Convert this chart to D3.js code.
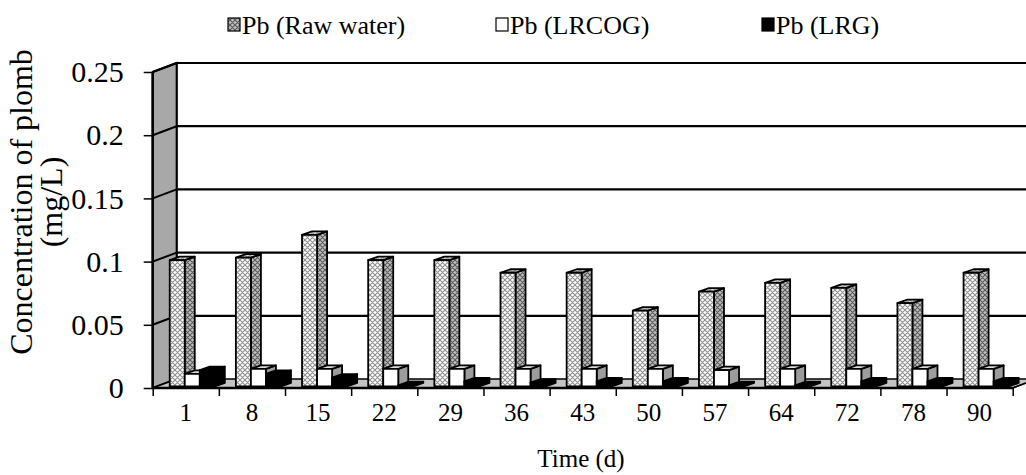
<!DOCTYPE html>
<html>
<head>
<meta charset="utf-8">
<script src="https://cdn.jsdelivr.net/npm/d3@7/dist/d3.min.js"></script>
<style>
  html, body { margin: 0; padding: 0; background: #fff; }
  svg { display: block; }
  text { font-family: "Liberation Serif", "Times New Roman", serif; fill: #000; }
</style>
</head>
<body>
<svg id="chart" width="1026" height="475"></svg>
<script>
// ---- data ----
const days = ["1","8","15","22","29","36","43","50","57","64","72","78","90"];
const rawWater = [0.100,0.102,0.120,0.100,0.100,0.090,0.090,0.060,0.075,0.082,0.078,0.066,0.090];
const lrcog    = [0.010,0.014,0.014,0.014,0.014,0.014,0.014,0.014,0.013,0.014,0.014,0.014,0.014];
const lrg      = [0.013,0.010,0.007,0.001,0.004,0.003,0.004,0.004,0.001,0.001,0.004,0.004,0.004];
const seriesNames = ["Pb (Raw water)","Pb (LRCOG)","Pb (LRG)"];
const yTicks = [0, 0.05, 0.1, 0.15, 0.2, 0.25];
const yTitle = ["Concentration of plomb", "(mg/L)"];
const xTitle = "Time (d)";

// ---- geometry ----
const svg = d3.select("#chart");
const X0 = 152.7, X1 = 1012.7, YB = 388, YT = 72;
const DX = 24, DY = -9;            // wall depth offset
const FX = 6.5, FY = -1.5;         // bar front-face offset
const BDX = 10, BDY = -3.5;        // bar depth

const y = d3.scaleLinear().domain([0, 0.25]).range([YB, YT]);
const x = d3.scaleBand().domain(days).range([X0, X1]).padding(0);
const xs = d3.scaleBand().domain(seriesNames).range([0, x.bandwidth()]).paddingInner(0).paddingOuter(0.7);
const xIdx = d3.scaleLinear().domain([0, days.length]).range([X0, X1]);

// ---- patterns ----
const defs = svg.append("defs");
function hatch(id, bg, line, size) {
  const p = defs.append("pattern").attr("id", id).attr("patternUnits", "userSpaceOnUse")
    .attr("width", size).attr("height", size);
  p.append("rect").attr("width", size).attr("height", size).attr("fill", bg);
  p.append("path").attr("d", `M0,0L${size},${size}M${size},0L0,${size}M-1,${size-1}L1,${size+1}M${size-1},-1L${size+1},1M-1,1L1,-1M${size-1},${size+1}L${size+1},${size-1}`)
    .attr("stroke", line).attr("stroke-width", 1.1);
}
hatch("hFront", "#ffffff", "#8f8f8f", 5);
hatch("hSide", "#c0c0c0", "#5a5a5a", 5);
hatch("hTop", "#e4e4e4", "#9a9a9a", 5);

svg.append("rect").attr("width", 1026).attr("height", 475).attr("fill", "#fff");

// ---- walls ----
const g = svg.append("g");
g.append("rect").attr("x", X0 + DX).attr("y", YT + DY).attr("width", 1100 - X0).attr("height", YB - YT)
  .attr("fill", "#fff");
g.append("path").attr("d", `M${X0},${YT}L${X0+DX},${YT+DY}L${X0+DX},${YB+DY}L${X0},${YB}Z`)
  .attr("fill", "#a8a8a8").attr("stroke", "#000").attr("stroke-width", 2);
g.append("path").attr("d", `M${X0},${YB}L${X0+DX},${YB+DY}L${X1+DX},${YB+DY}L${X1},${YB}Z`)
  .attr("fill", "#c4c4c4").attr("stroke", "#000").attr("stroke-width", 1.5);
yTicks.filter(v => v > 0).forEach(v => {
  g.append("line").attr("x1", X0 + DX).attr("x2", 1100).attr("y1", y(v) + DY).attr("y2", y(v) + DY)
    .attr("stroke", "#000").attr("stroke-width", 2.2);
  g.append("line").attr("x1", X0).attr("x2", X0 + DX).attr("y1", y(v)).attr("y2", y(v) + DY)
    .attr("stroke", "#000").attr("stroke-width", 2);
});
g.append("line").attr("x1", X0 + DX).attr("x2", X0 + DX).attr("y1", YT + DY).attr("y2", YB + DY)
  .attr("stroke", "#000").attr("stroke-width", 1.5);

// ---- bars ----
const series = [
  { name: seriesNames[0], values: rawWater, front: "url(#hFront)", side: "url(#hSide)", top: "url(#hTop)" },
  { name: seriesNames[1], values: lrcog, front: "#ffffff", side: "#9c9c9c", top: "#dcdcdc" },
  { name: seriesNames[2], values: lrg, front: "#000000", side: "#000000", top: "#000000" }
];
const bars = svg.append("g");
days.forEach((d, i) => {
  series.forEach(s => {
    const v = s.values[i];
    const bx = x(d) + xs(s.name) + FX;
    const bw = xs.bandwidth();
    const yb = y(0) + FY, yt = y(v) + FY;
    const bg = bars.append("g").attr("stroke", "#000").attr("stroke-width", 1.8).attr("stroke-linejoin", "round");
    bg.append("path").attr("fill", s.side)
      .attr("d", `M${bx+bw},${yt}L${bx+bw+BDX},${yt+BDY}L${bx+bw+BDX},${yb+BDY}L${bx+bw},${yb}Z`);
    bg.append("path").attr("fill", s.top)
      .attr("d", `M${bx},${yt}L${bx+BDX},${yt+BDY}L${bx+bw+BDX},${yt+BDY}L${bx+bw},${yt}Z`);
    bg.append("rect").attr("fill", s.front).attr("x", bx).attr("y", yt).attr("width", bw).attr("height", yb - yt);
  });
});

// ---- axes ----
const yAxis = svg.append("g").attr("transform", `translate(${X0},0)`)
  .call(d3.axisLeft(y).tickValues(yTicks).tickSize(9).tickPadding(20).tickFormat(d3.format("")));
yAxis.select(".domain").attr("stroke", "#000").attr("stroke-width", 2.5).attr("d", `M0,${YT}V${YB}`);
yAxis.selectAll(".tick line").attr("stroke", "#000").attr("stroke-width", 1.5);
yAxis.selectAll(".tick text").attr("font-size", 30).attr("font-family", "Liberation Serif").attr("fill", "#000");

const xTickAxis = svg.append("g").attr("transform", `translate(0,${YB})`)
  .call(d3.axisBottom(xIdx).tickValues(d3.range(days.length + 1)).tickSize(8).tickFormat(""));
xTickAxis.select(".domain").attr("stroke", "#000").attr("stroke-width", 2.5).attr("d", `M${X0},0H${X1}`);
xTickAxis.selectAll(".tick line").attr("stroke", "#000").attr("stroke-width", 1.5);

const xLab = svg.append("g").attr("transform", `translate(0,${YB})`)
  .call(d3.axisBottom(x).tickSize(0).tickPadding(15));
xLab.select(".domain").remove();
xLab.selectAll(".tick text").attr("font-size", 25).attr("font-family", "Liberation Serif").attr("fill", "#000");

svg.append("line").attr("x1", X1).attr("y1", YB).attr("x2", X1 + DX).attr("y2", YB + DY)
  .attr("stroke", "#000").attr("stroke-width", 1.5);

// ---- titles ----
svg.append("text").attr("x", 581).attr("y", 467).attr("text-anchor", "middle").attr("font-size", 25).text(xTitle);
const yt = svg.append("text").attr("transform", "translate(0,202) rotate(-90)").attr("text-anchor", "middle").attr("font-size", 32);
yt.append("tspan").attr("x", 0).attr("y", 32).text(yTitle[0]);
yt.append("tspan").attr("x", 0).attr("y", 62).text(yTitle[1]);

// ---- legend ----
const legendX = [228, 496, 762];
const legendFill = ["url(#hSide)", "#ffffff", "#000000"];
const lg = svg.append("g");
seriesNames.forEach((n, i) => {
  lg.append("rect").attr("x", legendX[i]).attr("y", 18).attr("width", 12).attr("height", 13)
    .attr("fill", legendFill[i]).attr("stroke", "#000").attr("stroke-width", 1.2);
  lg.append("text").attr("x", legendX[i] + 14).attr("y", 34).attr("font-size", 26).text(n);
});
</script>
</body>
</html>
